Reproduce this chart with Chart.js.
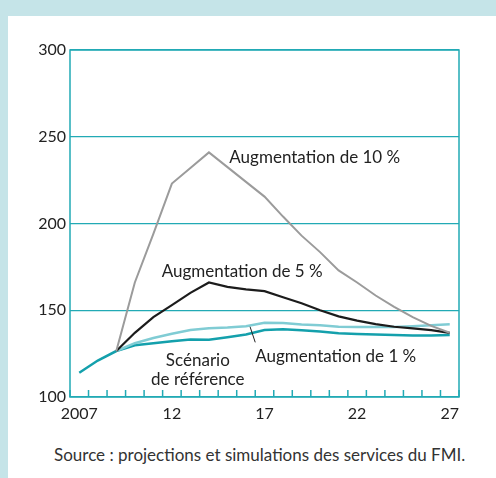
<!DOCTYPE html>
<html>
<head>
<meta charset="utf-8">
<script src="https://cdn.jsdelivr.net/npm/chart.js@4/dist/chart.umd.min.js"></script>
<style>
  html, body { margin: 0; padding: 0; }
  body { width: 496px; height: 478px; background: #c5e4e8; position: relative; overflow: hidden; }
  #panel { position: absolute; left: 8px; top: 16px; width: 488px; height: 462px; background: #fff; }
  #chart { position: absolute; left: 0; top: 0; }
  #source { position: absolute; left: 46px; top: 429px; font: 17px/20px Lato, sans-serif; color: #333; white-space: nowrap; }
</style>
</head>
<body>
<div id="panel">
  <canvas id="chart" width="488" height="420"></canvas>
  <div id="source">Source : projections et simulations des services du FMI.</div>
</div>
<script>
// years 2007 .. 2027
const years = [2007, 2008, 2009, 2010, 2011, 2012, 2013, 2014, 2015, 2016, 2017,
  2018, 2019, 2020, 2021, 2022, 2023, 2024, 2025, 2026, 2027];
const shownYears = [2007, 2012, 2017, 2022, 2027];

const baseline = [114, 121, 126.5, 129.8, 131, 132.2, 133.2, 133, 134.5, 136, 138.6,
  139, 138.5, 137.8, 136.8, 136.3, 136, 135.7, 135.5, 135.5, 135.8];
const plus1 = [null, null, 126.5, 131, 134, 136.5, 138.6, 139.6, 140, 140.8, 142.8,
  142.7, 141.8, 141.3, 140.5, 140.3, 140.3, 140.4, 140.8, 141.3, 141.9];
const plus5 = [null, null, 126.5, 137, 146, 153, 160, 166, 163.5, 162, 161,
  157.5, 154, 150, 146.5, 144, 142, 140.5, 139.5, 138.5, 137];
const plus10 = [null, null, 126.5, 166, 194, 223, 232, 241, 232.5, 224, 215.5,
  204, 193, 183.5, 173, 166, 158.5, 152, 146, 141, 137];

const teal = "#22aab5";
const font = "Lato, sans-serif";

// text labels drawn on the plot
const labels = ["Augmentation de 10 %", "Augmentation de 5 %", "Augmentation de 1 %", "Scénario", "de référence"];

const framePlugin = {
  id: "frame",
  beforeDatasetsDraw(chart) {
    const { ctx, chartArea: a, scales: { x } } = chart;
    ctx.save();
    ctx.strokeStyle = teal;
    ctx.lineWidth = 1.5;
    ctx.strokeRect(a.left, a.top, a.right - a.left, a.bottom - a.top);
    // small ticks between the years, pointing up
    const half = (x.getPixelForValue(1) - x.getPixelForValue(0)) / 2;
    ctx.beginPath();
    for (let i = 0; i <= years.length; i++) {
      const px = x.getPixelForValue(i) - half;
      ctx.moveTo(px, a.bottom);
      ctx.lineTo(px, a.bottom - 7);
    }
    ctx.stroke();
    ctx.restore();
  },
  afterDatasetsDraw(chart) {
    const { ctx, scales: { x, y } } = chart;
    ctx.save();
    ctx.fillStyle = "#222";
    ctx.font = "17px " + font;
    ctx.textBaseline = "middle";
    ctx.textAlign = "left";
    ctx.fillText(labels[0], x.getPixelForValue(8.1), y.getPixelForValue(238.3));
    ctx.fillText(labels[1], x.getPixelForValue(4.45), y.getPixelForValue(172.6));
    ctx.fillText(labels[2], x.getPixelForValue(9.5), y.getPixelForValue(123.6));
    ctx.textAlign = "center";
    ctx.fillText(labels[3], x.getPixelForValue(6.4), y.getPixelForValue(121.3));
    ctx.fillText(labels[4], x.getPixelForValue(6.4), y.getPixelForValue(109.8));
    // leader line to the 1 % curve
    ctx.strokeStyle = "#222";
    ctx.lineWidth = 1;
    ctx.beginPath();
    ctx.moveTo(x.getPixelForValue(9.22), y.getPixelForValue(140.5));
    ctx.lineTo(x.getPixelForValue(9.5), y.getPixelForValue(131.5));
    ctx.stroke();
    ctx.restore();
  }
};

new Chart(document.getElementById("chart"), {
  type: "line",
  data: {
    labels: years,
    datasets: [
      { label: "Augmentation de 10 %", data: plus10, borderColor: "#9b9b9b", borderWidth: 2 },
      { label: "Augmentation de 5 %", data: plus5, borderColor: "#1c1c1c", borderWidth: 2.2 },
      { label: "Augmentation de 1 %", data: plus1, borderColor: "#80ccd4", borderWidth: 2.5 },
      { label: "Scénario de référence", data: baseline, borderColor: "#14a0ac", borderWidth: 2.5 },
    ],
  },
  options: {
    responsive: false,
    animation: false,
    elements: { point: { radius: 0 }, line: { tension: 0 } },
    layout: { padding: { top: 34, right: 37, bottom: 9, left: 0 } },
    plugins: { legend: { display: false }, tooltip: { enabled: false } },
    scales: {
      x: {
        offset: true,
        grid: { display: false, drawTicks: false },
        border: { display: false },
        afterFit: (s) => { s.height = 30; },
        ticks: {
          autoSkip: false,
          maxRotation: 0,
          padding: 7,
          color: "#222",
          font: { family: font, size: 16 },
          callback: (v, i) => {
            const yr = years[i];
            if (!shownYears.includes(yr)) return "";
            return yr === 2007 ? "2007" : String(yr).slice(2);
          },
        },
      },
      y: {
        min: 100,
        max: 300,
        afterFit: (s) => { s.width = 62; },
        grid: { color: teal, lineWidth: 1.2, drawTicks: false },
        border: { display: false },
        ticks: {
          stepSize: 50,
          padding: 4,
          color: "#222",
          font: { family: font, size: 16 },
        },
      },
    },
  },
  plugins: [framePlugin],
});
</script>
</body>
</html>
